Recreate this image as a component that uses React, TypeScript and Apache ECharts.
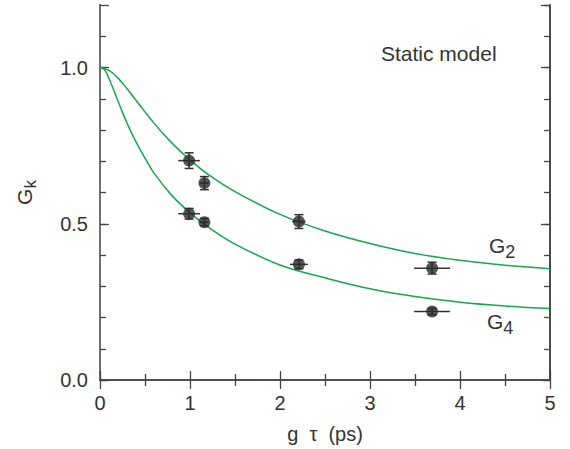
import React, { useEffect, useRef } from "react";
import * as echarts from "echarts";

// Measured data points (g·tau in ps, G_k) with error bars
const pointX = [0.99, 1.16, 0.99, 1.16, 2.21, 2.21, 3.69, 3.69];
const pointY = [0.702, 0.63, 0.532, 0.505, 0.507, 0.37, 0.358, 0.219];
const errX = [0.12, 0.05, 0.12, 0.05, 0.075, 0.1, 0.2, 0.2];
const errY = [0.025, 0.021, 0.017, 0.012, 0.022, 0.014, 0.019, 0.01];

// Static model curves
const g2X = [0, 0.1, 0.2, 0.3, 0.4, 0.5, 0.6, 0.7, 0.8, 0.9, 1.0, 1.2, 1.5, 2.0, 2.5, 3.0, 3.5, 4.0, 4.5, 5.0];
const g2Y = [1.0, 0.991, 0.966, 0.932, 0.895, 0.858, 0.822, 0.789, 0.758, 0.73, 0.704, 0.658, 0.603, 0.53, 0.477, 0.437, 0.405, 0.383, 0.367, 0.356];
const g4X = [0, 0.05, 0.1, 0.2, 0.3, 0.4, 0.5, 0.6, 0.8, 1.0, 1.2, 1.5, 2.0, 2.5, 3.0, 3.5, 4.0, 4.5, 5.0];
const g4Y = [1.0, 0.993, 0.965, 0.893, 0.822, 0.762, 0.71, 0.662, 0.59, 0.535, 0.49, 0.435, 0.368, 0.327, 0.292, 0.267, 0.249, 0.237, 0.229];

const xTickLabels = ["0", "1", "2", "3", "4", "5"];
const yTickLabels = ["0.0", "0.5", "1.0"];

const FONT = "'Liberation Sans', Arial, Helvetica, sans-serif";
const TEXT = "#333";
const AXIS = "#444";
const AXIS_LEFT = "#707070";
const GREEN = "#17a84b";

const subRich = (main: number, sub: number, shift: number, fillKey: "fill" | "color") => ({
  g: { fontSize: main, fontFamily: FONT, [fillKey]: TEXT, lineHeight: main + 1, verticalAlign: "top" },
  s: {
    fontSize: sub,
    fontFamily: FONT,
    [fillKey]: TEXT,
    lineHeight: sub,
    padding: [shift, 0, 0, 0],
    verticalAlign: "top",
  },
});

export default function App() {
  const ref = useRef<HTMLDivElement>(null);

  useEffect(() => {
    if (!ref.current) return;
    const chart = echarts.init(ref.current, null, { renderer: "svg" });

    const axisLine = { show: true, lineStyle: { color: AXIS, width: 1.6 } };
    const axisLineLeft = { show: true, lineStyle: { color: AXIS_LEFT, width: 2 } };
    const xBase = {
      type: "value" as const,
      min: 0,
      max: 5,
      interval: 1,
      splitLine: { show: false },
      axisLine,
      axisTick: { show: true, inside: true, length: 9, lineStyle: { color: AXIS, width: 1.3 } },
      minorTick: { show: true, splitNumber: 2, length: 6, lineStyle: { color: AXIS, width: 1.3 } },
    };
    const yMinor = {
      type: "value" as const,
      min: 0,
      max: 1.2,
      interval: 0.1,
      splitLine: { show: false },
      axisLine,
      axisTick: { show: true, inside: true, length: 6, lineStyle: { color: AXIS, width: 1.3 } },
    };
    const yMajor = {
      type: "value" as const,
      min: 0,
      max: 1.2,
      interval: 0.5,
      splitLine: { show: false },
      axisLine,
      axisLabel: { show: false },
      axisTick: { show: true, inside: true, length: 9, lineStyle: { color: AXIS, width: 1.3 } },
    };

    const option: any = {
      animation: false,
      textStyle: { fontFamily: FONT },
      grid: { left: 100, right: 20, top: 5, bottom: 69, containLabel: false },
      xAxis: [
        {
          ...xBase,
          position: "bottom",
          axisLabel: {
            show: true,
            color: TEXT,
            fontSize: 20,
            fontFamily: FONT,
            margin: 13,
            formatter: (v: number) => {
              const i = Math.round(v);
              return Math.abs(v - i) < 1e-6 ? xTickLabels[i] ?? "" : "";
            },
          },
          name: "g\u00a0\u00a0τ\u00a0\u00a0(ps)",
          nameLocation: "middle",
          nameGap: 44,
          nameTextStyle: { color: TEXT, fontSize: 20, fontFamily: FONT },
        },
        { ...xBase, position: "top", axisLabel: { show: false } },
      ],
      yAxis: [
        {
          ...yMinor,
          position: "left",
          axisLine: axisLineLeft,
          axisLabel: {
            show: true,
            color: TEXT,
            fontSize: 20,
            fontFamily: FONT,
            margin: 12,
            showMaxLabel: false,
            formatter: (v: number) => {
              const k = Math.round(v * 2);
              return Math.abs(v * 2 - k) < 1e-6 ? yTickLabels[k] ?? "" : "";
            },
          },
          name: "{g|G}{s|k}",
          nameLocation: "middle",
          nameGap: 64,
          nameTextStyle: {
            color: TEXT,
            fontFamily: FONT,
            rich: subRich(21, 17, 8, "color"),
          },
        },
        { ...yMajor, position: "left", axisLine: axisLineLeft },
        { ...yMinor, position: "right", axisLabel: { show: false } },
        { ...yMajor, position: "right" },
      ],
      series: [
        {
          type: "line",
          name: "G2",
          xAxisIndex: 0,
          yAxisIndex: 0,
          data: g2X.map((x, i) => [x, g2Y[i]]),
          showSymbol: false,
          smooth: 0.4,
          lineStyle: { color: GREEN, width: 1.5 },
          z: 2,
        },
        {
          type: "line",
          name: "G4",
          xAxisIndex: 0,
          yAxisIndex: 0,
          data: g4X.map((x, i) => [x, g4Y[i]]),
          showSymbol: false,
          smooth: 0.4,
          lineStyle: { color: GREEN, width: 1.5 },
          z: 2,
        },
        {
          type: "custom",
          xAxisIndex: 0,
          yAxisIndex: 0,
          data: pointX.map((x, i) => [x, pointY[i], errX[i], errY[i]]),
          encode: { x: 0, y: 1 },
          z: 3,
          renderItem: (params: any, api: any) => {
            const x = api.value(0);
            const y = api.value(1);
            const ex = api.value(2);
            const ey = api.value(3);
            const l = api.coord([x - ex, y]);
            const r = api.coord([x + ex, y]);
            const t = api.coord([x, y + ey]);
            const b = api.coord([x, y - ey]);
            const style = { stroke: "#333", lineWidth: 1.5 };
            const cap = 4.5;
            return {
              type: "group",
              children: [
                { type: "line", shape: { x1: l[0], y1: l[1], x2: r[0], y2: r[1] }, style },
                { type: "line", shape: { x1: t[0], y1: t[1], x2: b[0], y2: b[1] }, style },
                { type: "line", shape: { x1: t[0] - cap, y1: t[1], x2: t[0] + cap, y2: t[1] }, style },
                { type: "line", shape: { x1: b[0] - cap, y1: b[1], x2: b[0] + cap, y2: b[1] }, style },
              ],
            };
          },
        },
        {
          type: "scatter",
          xAxisIndex: 0,
          yAxisIndex: 0,
          data: pointX.map((x, i) => [x, pointY[i]]),
          symbol: "circle",
          symbolSize: 12,
          itemStyle: { color: "#2a2a2e" },
          z: 4,
        },
      ],
      graphic: [
        {
          type: "text",
          left: 381,
          top: 43,
          style: { text: "Static model", fontSize: 21, fontFamily: FONT, fill: TEXT },
        },
        {
          type: "text",
          x: 489,
          y: 235,
          style: {
            text: "{g|G}{s|2}",
            fontFamily: FONT,
            fill: TEXT,
            verticalAlign: "top",
            rich: subRich(21, 18, 8, "fill"),
          },
        },
        {
          type: "text",
          x: 487,
          y: 311,
          style: {
            text: "{g|G}{s|4}",
            fontFamily: FONT,
            fill: TEXT,
            verticalAlign: "top",
            rich: subRich(21, 18, 8, "fill"),
          },
        },
      ],
    };

    chart.setOption(option);
    return () => chart.dispose();
  }, []);

  return (
    <div
      ref={ref}
      style={{ position: "absolute", left: 0, top: 0, width: 570, height: 449, background: "#fff" }}
    />
  );
}
